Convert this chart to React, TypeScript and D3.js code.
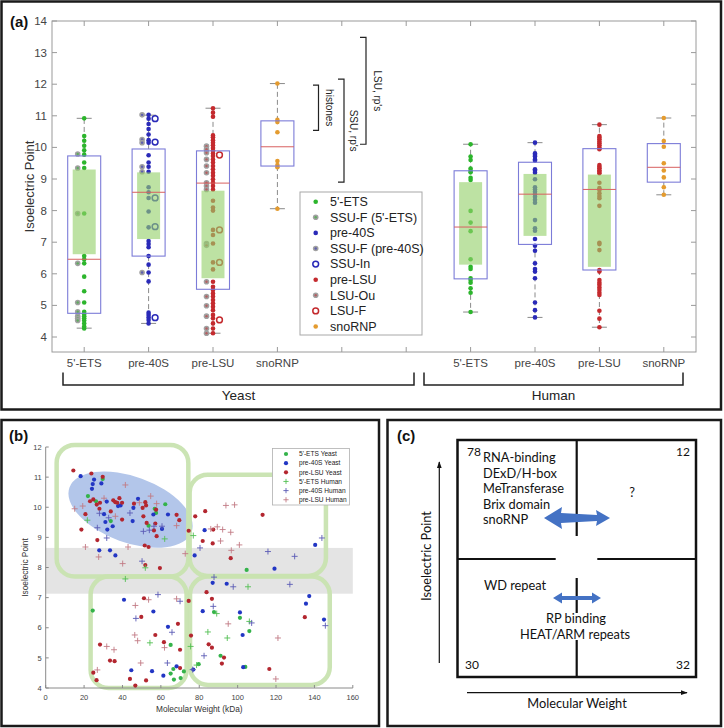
import React from "react";
import * as d3 from "d3";

// ---------------- Panel (a) data ----------------
const catLabels = ["5'-ETS", "pre-40S", "pre-LSU", "snoRNP", "", "", "5'-ETS", "pre-40S", "pre-LSU", "snoRNP"];
const yTicksA = [4, 5, 6, 7, 8, 9, 10, 11, 12, 13, 14];
const boxPos = [1, 2, 3, 4, 7, 8, 9, 10];
const boxLo = [4.75, 6.56, 5.51, 9.41, 5.84, 6.93, 6.12, 8.9];
const boxHi = [9.73, 9.95, 9.89, 10.84, 9.26, 9.53, 9.96, 10.12];
const greenLo = [6.62, 7.1, 5.86, null, 6.29, 7.2, 6.22, null];
const greenHi = [9.3, 9.21, 8.63, null, 8.9, 9.16, 9.14, null];
const medians = [6.46, 8.58, 8.87, 10.02, 7.48, 8.52, 8.67, 9.37];
const whiskLo = [4.28, 4.43, 4.12, 8.06, 4.79, 4.62, 4.31, 8.5];
const whiskHi = [10.92, 11.02, 11.24, 12.02, 10.1, 10.15, 10.72, 10.93];

const y5ETS = [10.92, 10.36, 10.21, 10.05, 9.91, 9.77, 9.52, 9.35, 7.91, 6.56, 6.46, 6.33, 5.91, 5.45, 5.09, 4.8, 4.73, 4.66, 4.59, 4.52, 4.43, 4.33, 4.27];
const ySSUF5 = [9.79, 9.35, 7.91, 6.33, 5.09, 4.8, 4.66, 4.59, 4.52];
const y40S = [11.03, 10.91, 10.74, 10.58, 10.41, 10.23, 10.15, 9.75, 9.52, 9.39, 9.23, 8.74, 8.58, 8.4, 7.97, 7.47, 7.04, 6.94, 6.84, 6.56, 6.29, 6.04, 5.76, 4.77, 4.7, 4.62, 4.54, 4.43];
const ySSUF40 = [11.03, 10.25, 10.15, 9.39, 9.23, 6.04];
const ySSUIn = [10.91, 10.17, 8.4, 7.49, 4.61];
const yLSU = [11.24, 11.1, 10.97, 10.38, 10.32, 10.23, 10.15, 10.07, 9.98, 9.9, 9.81, 9.73, 9.62, 9.52, 9.41, 9.31, 9.2, 9.1, 8.99, 8.88, 8.78, 8.67, 8.31, 8.1, 8.0, 7.39, 7.23, 6.96, 6.36, 6.14, 5.75, 5.59, 5.49, 5.38, 5.28, 5.17, 5.07, 4.96, 4.85, 4.7, 4.59, 4.43, 4.27, 4.12];
const yLSUOu = [10.04, 9.94, 9.83, 9.62, 9.41, 9.2, 8.88, 8.78, 8.67, 6.96, 6.9, 5.75, 5.28, 4.99, 4.66, 4.27, 4.12];
const yLSUF = [9.76, 7.39, 6.36, 4.54];
const ySno = [12.02, 10.87, 10.8, 10.48, 9.57, 9.44, 9.37, 8.06];
const h5ETS = [10.1, 9.71, 9.6, 9.33, 9.26, 9.21, 9.04, 8.97, 7.99, 7.62, 7.35, 6.46, 6.22, 6.15, 5.86, 5.8, 5.72, 5.54, 5.4, 4.79];
const h40S = [10.15, 9.81, 9.76, 9.71, 9.62, 9.58, 9.31, 9.26, 9.2, 8.99, 8.74, 8.67, 8.6, 8.52, 8.44, 8.34, 8.25, 7.7, 7.44, 7.36, 7.1, 6.89, 6.73, 6.33, 6.15, 6.07, 5.86, 5.09, 4.85, 4.62];
const hLSU = [10.72, 10.36, 10.31, 10.26, 10.19, 10.13, 10.07, 10.0, 9.94, 9.44, 9.39, 9.34, 9.28, 9.23, 9.18, 8.88, 8.71, 8.65, 8.55, 8.46, 8.39, 8.15, 6.98, 6.94, 6.75, 6.12, 6.07, 5.8, 5.72, 5.65, 5.57, 5.49, 5.4, 5.33, 4.83, 4.58, 4.31];
const hSno = [10.93, 10.2, 10.02, 9.5, 9.27, 9.05, 8.74, 8.5];

const legendA = ["5'-ETS", "SSU-F (5'-ETS)", "pre-40S", "SSU-F (pre-40S)", "SSU-In", "pre-LSU", "LSU-Ou", "LSU-F", "snoRNP"];

// ---------------- Panel (b) data ----------------
const yeast5ETS = [[29.7, 10.94], [22.0, 10.37], [26.2, 10.2], [33.9, 9.54], [53.6, 9.39], [56.8, 9.95], [57.5, 9.81], [62.3, 10.1], [24.5, 6.57], [65.1, 5.43], [66.5, 4.63], [65.1, 4.48], [66.8, 4.28], [70.3, 4.33], [72, 4.55], [104.7, 7.92], [87.7, 6.52], [101.2, 6.33], [106.1, 5.89], [91.1, 5.07], [79.7, 4.79], [104, 4.7]];
const yeast40S = [[18.2, 11.03], [25.2, 10.92], [24.5, 10.77], [29, 10.79], [24.1, 10.61], [31.8, 10.19], [37.7, 10.04], [39, 10.06], [30.4, 9.77], [31.1, 9.51], [34.9, 9.37], [32.1, 9.26], [27.9, 8.57], [33.5, 8.57], [36.3, 8.4], [45.7, 9.98], [45.3, 9.54], [48.1, 10.28], [56.1, 9.76], [63.7, 9.76], [60.6, 9.28], [77.6, 8.4], [40.8, 6.93], [56.1, 6.54], [63.7, 6.03], [44.6, 4.59], [55.4, 4.56], [61.3, 4.41], [68.2, 4.72], [82.8, 9.24], [140.4, 8.75], [119.2, 7.96], [87, 7.49], [94.3, 7.46], [137.3, 7.05], [135.6, 6.8], [81.8, 6.55], [101.2, 6.51], [145, 6.27], [102.6, 5.76], [102.9, 4.69], [76.9, 4.61]];
const yeastLSU = [[14.4, 11.22], [23.8, 11.12], [29.7, 11.01], [23.1, 10.2], [24.8, 10.26], [28.3, 10.15], [26.6, 10.09], [35.2, 10.23], [36.3, 10.17], [37.3, 10.15], [38.4, 10.3], [33.9, 9.86], [28, 9.95], [20.7, 9.77], [18.6, 9.26], [26.9, 8.91], [39.8, 10.15], [39.8, 9.59], [46, 10.12], [50.5, 9.98], [51.9, 10.17], [52.3, 10.06], [50.9, 9.7], [52.6, 9.48], [57.1, 9.46], [56.4, 9.23], [57.8, 9.04], [57.5, 9.92], [68.2, 9.75], [69.6, 9.57], [51.6, 8.73], [53.6, 8.68], [74.5, 9.22], [51.9, 8.08], [59.5, 7.98], [51.2, 6.98], [49.8, 6.36], [68.9, 6.13], [57.1, 5.76], [28.3, 5.44], [61.6, 5.52], [70, 5.27], [33.5, 4.91], [35.9, 4.89], [24.8, 4.51], [26.5, 4.26], [70, 4.66], [43.9, 4.3], [46.7, 4.08], [52.3, 4.25], [83.1, 9.87], [77.9, 9.7], [113, 9.75], [87.3, 9.26], [81.8, 8.88], [87, 8.8], [96.4, 8.31], [83.8, 7.18], [86.6, 6.96], [135, 6.35], [75.7, 5.74], [84.9, 5.45], [86.6, 5.34], [92.9, 5.01], [91.8, 4.81], [116.5, 4.63], [74.5, 6.89]];
const human5ETS = [[21.7, 9.57], [62, 8.95], [76.9, 9.06], [51.9, 7.99], [41.5, 7.62], [54.3, 5.5], [105.4, 7.36], [89.1, 6.47], [106.1, 6.21], [84.5, 5.86], [94.6, 5.66], [75.5, 5.38], [78.6, 4.76]];
const human40S = [[28, 9.8], [32.8, 9.65], [26.9, 9.32], [31.8, 8.98], [43.9, 9.81], [50.9, 9.2], [54, 9.24], [56.4, 9.37], [60.6, 9.37], [50.2, 8.21], [58.5, 7.1], [70, 6.88], [47, 6.31], [65.8, 5.85], [63.4, 4.83], [143.9, 8.98], [80.4, 8.65], [115.8, 8.53], [129.7, 8.37], [87.7, 7.68], [97.7, 7.36], [127.2, 7.44], [87.3, 6.71], [107.3, 6.16], [145.7, 6.07], [82.5, 5.07], [76.6, 4.61]];
const humanLSU = [[30.4, 10.3], [19.3, 10.04], [41.5, 10.74], [15.1, 9.95], [36.3, 9.7], [20.7, 8.68], [27.6, 8.35], [48.8, 10.15], [54.7, 10.37], [57.8, 10.12], [68.2, 9.39], [42.9, 8.68], [72.7, 8.46], [40.1, 8.13], [53.6, 6.93], [68.2, 6.96], [46.7, 6.74], [46.4, 5.76], [47.9, 5.57], [31.8, 5.38], [35.6, 5.27], [61.9, 5.34], [49.5, 4.83], [26.9, 4.6], [93.9, 10.06], [98.4, 10.08], [86, 9.28], [89.4, 9.35], [92.2, 9.26], [96.4, 9.17], [91.1, 8.88], [100.9, 8.75], [96.7, 8.57], [95.1, 6.13], [121, 5.66], [119.9, 4.3]];
const xTicksB = [0, 20, 40, 60, 80, 100, 120, 140, 160];
const yTicksB = [4, 5, 6, 7, 8, 9, 10, 11, 12];
const legendB = ["5'-ETS Yeast", "pre-40S Yeast", "pre-LSU Yeast", "5'-ETS Human", "pre-40S Human", "pre-LSU Human"];
// quadrant boxes [x0, x1, y0, y1] in data units
const quadBoxes = [[5.7, 74.3, 7.7, 12.07], [75, 146, 7.72, 11.08], [23.4, 73.4, 4.0, 7.7], [75.2, 148, 4.1, 7.7]];
const bandRange = [7.13, 8.65];
const ellipseCenter = [44.2, 9.92];

// ---------------- Panel (c) text ----------------
const ulLines = ["RNA-binding", "DExD/H-box", "MeTransferase", "Brix domain", "snoRNP"];

const GREEN = "#2cb52c";
const BLUE = "#2a2ab8";
const RED = "#c42a2e";
const ORANGE = "#e49b2f";
const GRAY = "#a0a0a0";

function Dot({ x, y, kind, color, r = 2.3 }: any) {
  if (kind === "ring") return <circle cx={x} cy={y} r={r + 0.6} fill="none" stroke={color} strokeWidth={1.5} />;
  if (kind === "gray")
    return (
      <g>
        <circle cx={x} cy={y} r={r + 0.5} fill={GRAY} />
        <circle cx={x} cy={y} r={1.2} fill={color} opacity={0.55} />
      </g>
    );
  return <circle cx={x} cy={y} r={r} fill={color} />;
}

function PanelA() {
  const x = d3.scaleLinear().domain([0.5, 10.5]).range([52, 696]);
  const y = d3.scaleLinear().domain([4, 14]).range([337, 21]);
  const top = 21, bot = 352, left = 52, right = 696;
  const dotGroups = [
    { pos: 1, off: 0, vals: y5ETS, kind: "dot", color: GREEN },
    { pos: 1, off: -6.5, vals: ySSUF5, kind: "gray", color: GREEN },
    { pos: 2, off: 0, vals: y40S, kind: "dot", color: BLUE },
    { pos: 2, off: -6.5, vals: ySSUF40, kind: "gray", color: BLUE },
    { pos: 2, off: 6.5, vals: ySSUIn, kind: "ring", color: BLUE },
    { pos: 3, off: 0, vals: yLSU, kind: "dot", color: RED },
    { pos: 3, off: -6.5, vals: yLSUOu, kind: "gray", color: RED },
    { pos: 3, off: 6.5, vals: yLSUF, kind: "ring", color: RED },
    { pos: 4, off: 0, vals: ySno, kind: "dot", color: ORANGE },
    { pos: 7, off: 0, vals: h5ETS, kind: "dot", color: GREEN },
    { pos: 8, off: 0, vals: h40S, kind: "dot", color: BLUE },
    { pos: 9, off: 0, vals: hLSU, kind: "dot", color: RED },
    { pos: 10, off: 0, vals: hSno, kind: "dot", color: ORANGE },
  ];
  const legendKinds = [
    ["dot", GREEN], ["gray", GREEN], ["dot", BLUE], ["gray", BLUE], ["ring", BLUE],
    ["dot", RED], ["gray", RED], ["ring", RED], ["dot", ORANGE],
  ];
  const ann = [
    { x0: 313, x1: 318.5, lo: 10.54, hi: 11.97, label: "histones", tx: 329 },
    { x0: 338, x1: 344, lo: 8.9, hi: 12.16, label: "SSU, rp's", tx: 353 },
    { x0: 360, x1: 366, lo: 10.1, hi: 13.48, label: "LSU, rp's", tx: 377 },
  ];
  return (
    <g fontFamily="'Liberation Sans', Arial, sans-serif">
      <rect x={1.5} y={1.5} width={719.5} height={408} fill="white" stroke="#1a1a1a" strokeWidth={2.5} />
      <text x={10} y={27} fontSize={15} fontWeight="bold" fill="#111">(a)</text>
      {boxPos.map((p, i) => (
        <g key={"w" + i} stroke="#8a8a8a" strokeWidth={1}>
          <line x1={x(p)} x2={x(p)} y1={y(boxHi[i])} y2={y(whiskHi[i])} strokeDasharray="5,3" />
          <line x1={x(p)} x2={x(p)} y1={y(boxLo[i])} y2={y(whiskLo[i])} strokeDasharray="5,3" />
          <line x1={x(p) - 7.5} x2={x(p) + 7.5} y1={y(whiskHi[i])} y2={y(whiskHi[i])} />
          <line x1={x(p) - 7.5} x2={x(p) + 7.5} y1={y(whiskLo[i])} y2={y(whiskLo[i])} />
        </g>
      ))}
      {dotGroups.map((g, gi) =>
        g.vals.map((v, j) => <Dot key={gi + "-" + j} x={x(g.pos) + g.off} y={y(v)} kind={g.kind} color={g.color} />)
      )}
      {boxPos.map((p, i) => (
        <g key={"b" + i}>
          {greenLo[i] !== null && (
            <rect x={x(p) - 11.5} width={23} y={y(greenHi[i] as number)} height={y(greenLo[i] as number) - y(greenHi[i] as number)} fill="#94d06a" opacity={0.62} />
          )}
          <rect x={x(p) - 16.5} width={33} y={y(boxHi[i])} height={y(boxLo[i]) - y(boxHi[i])} fill="none" stroke="#7c7cd8" strokeWidth={1.1} />
          <line x1={x(p) - 16.5} x2={x(p) + 16.5} y1={y(medians[i])} y2={y(medians[i])} stroke="#d86060" strokeWidth={1} />
        </g>
      ))}
      <rect x={left} y={top} width={right - left} height={bot - top} fill="none" stroke="#9a9a9a" strokeWidth={1} />
      {yTicksA.map((t) => (
        <g key={"yt" + t}>
          <line x1={left} x2={left + 5} y1={y(t)} y2={y(t)} stroke="#9a9a9a" />
          <line x1={right} x2={right - 5} y1={y(t)} y2={y(t)} stroke="#9a9a9a" />
          <text x={left - 5} y={y(t)} dy="0.35em" textAnchor="end" fontSize={11.5} fill="#444">{t}</text>
        </g>
      ))}
      {catLabels.map((c, i) => (
        <g key={"xt" + i}>
          <line x1={x(i + 1)} x2={x(i + 1)} y1={bot} y2={bot - 5} stroke="#9a9a9a" />
          <line x1={x(i + 1)} x2={x(i + 1)} y1={top} y2={top + 5} stroke="#9a9a9a" />
          <text x={x(i + 1)} y={363} dy="0.35em" textAnchor="middle" fontSize={11.5} fill="#444">{c}</text>
        </g>
      ))}
      <text transform={`translate(29,${(top + bot) / 2}) rotate(-90)`} textAnchor="middle" dy="0.35em" fontSize={13} fill="#333">Isoelectric Point</text>
      {ann.map((a, i) => (
        <g key={"ann" + i}>
          <path d={`M${a.x0},${y(a.hi)}H${a.x1}V${y(a.lo)}H${a.x0}`} fill="none" stroke="#222" strokeWidth={1.2} />
          <text transform={`translate(${a.tx},${(y(a.hi) + y(a.lo)) / 2}) rotate(90)`} textAnchor="middle" dy="0.35em" fontSize={10} fill="#222">{a.label}</text>
        </g>
      ))}
      <rect x={300} y={192} width={122} height={143} fill="white" stroke="#a8a8a8" strokeWidth={1} />
      {legendA.map((l, i) => (
        <g key={"lg" + i}>
          <Dot x={315.7} y={201.7 + i * 15.6} kind={legendKinds[i][0]} color={legendKinds[i][1]} />
          <text x={330} y={201.7 + i * 15.6} dy="0.35em" fontSize={12.5} fill="#222">{l}</text>
        </g>
      ))}
      <path d="M63,372.5V385H414V372.5" fill="none" stroke="#222" strokeWidth={1.5} />
      <path d="M424,372.5V385H683V372.5" fill="none" stroke="#222" strokeWidth={1.5} />
      <text x={238.5} y={395} dy="0.35em" textAnchor="middle" fontSize={13.5} fill="#222">Yeast</text>
      <text x={553.5} y={395} dy="0.35em" textAnchor="middle" fontSize={13.5} fill="#222">Human</text>
    </g>
  );
}

function Plus({ x, y, color, s = 3 }: any) {
  return (
    <g stroke={color} strokeWidth={0.9}>
      <line x1={x - s} x2={x + s} y1={y} y2={y} />
      <line x1={x} x2={x} y1={y - s} y2={y + s} />
    </g>
  );
}

function PanelB() {
  const x = d3.scaleLinear().domain([0, 160]).range([45.7, 352.8]);
  const y = d3.scaleLinear().domain([4, 12]).range([688, 447]);
  const series = [
    { data: yeast5ETS, color: "#34b34a", kind: "dot" },
    { data: yeast40S, color: "#2236c4", kind: "dot" },
    { data: yeastLSU, color: "#b3262f", kind: "dot" },
    { data: human5ETS, color: "#52c052", kind: "plus" },
    { data: human40S, color: "#5b5bb5", kind: "plus" },
    { data: humanLSU, color: "#c27a84", kind: "plus" },
  ];
  return (
    <g fontFamily="'Liberation Sans', Arial, sans-serif">
      <rect x={1.5} y={420} width={377.5} height={306} fill="white" stroke="#1a1a1a" strokeWidth={2.5} />
      <text x={9} y={441} fontSize={15} fontWeight="bold" fill="#111">(b)</text>
      <rect x={x(0)} width={x(160) - x(0)} y={y(bandRange[1])} height={y(bandRange[0]) - y(bandRange[1])} fill="#e4e4e4" />
      <ellipse cx={x(ellipseCenter[0])} cy={y(ellipseCenter[1])} rx={65} ry={33} transform={`rotate(20 ${x(ellipseCenter[0])} ${y(ellipseCenter[1])})`} fill="#b3c6ea" />
      {quadBoxes.map((q, i) => (
        <rect key={"q" + i} x={x(q[0])} y={y(q[3])} width={x(q[1]) - x(q[0])} height={y(q[2]) - y(q[3])} rx={18} ry={18} fill="none" stroke="#c8e3b0" strokeWidth={4.5} opacity={0.95} />
      ))}
      <line x1={x(0)} x2={x(0)} y1={y(12)} y2={y(4)} stroke="#8a8a8a" />
      <line x1={x(0)} x2={x(160)} y1={y(4)} y2={y(4)} stroke="#8a8a8a" />
      {yTicksB.map((t) => (
        <g key={"by" + t}>
          <line x1={x(0)} x2={x(0) + 3} y1={y(t)} y2={y(t)} stroke="#8a8a8a" />
          <text x={x(0) - 4} y={y(t)} dy="0.35em" textAnchor="end" fontSize={7.5} fill="#444">{t}</text>
        </g>
      ))}
      {xTicksB.map((t) => (
        <g key={"bx" + t}>
          <line x1={x(t)} x2={x(t)} y1={y(4)} y2={y(4) - 3} stroke="#8a8a8a" />
          <text x={x(t)} y={697} dy="0.35em" textAnchor="middle" fontSize={7.5} fill="#444">{t}</text>
        </g>
      ))}
      <text transform={`translate(25,${(y(4) + y(12)) / 2}) rotate(-90)`} textAnchor="middle" dy="0.35em" fontSize={8.3} fill="#333">Isoelectric Point</text>
      <text x={(x(0) + x(160)) / 2} y={709} dy="0.35em" textAnchor="middle" fontSize={8.3} fill="#333">Molecular Weight (kDa)</text>
      {series.map((s, si) =>
        s.data.map((d, j) =>
          s.kind === "dot" ? (
            <circle key={si + "-" + j} cx={x(d[0])} cy={y(d[1])} r={2.1} fill={s.color} />
          ) : (
            <Plus key={si + "-" + j} x={x(d[0])} y={y(d[1])} color={s.color} />
          )
        )
      )}
      <rect x={272.5} y={448.5} width={77} height={56.5} fill="white" stroke="#b0b0b0" strokeWidth={0.8} />
      {legendB.map((l, i) => (
        <g key={"lb" + i}>
          {series[i].kind === "dot" ? (
            <circle cx={286} cy={454 + i * 9.15} r={2.1} fill={series[i].color} />
          ) : (
            <Plus x={286} y={454 + i * 9.15} color={series[i].color} s={2.6} />
          )}
          <text x={299} y={454 + i * 9.15} dy="0.35em" fontSize={6.6} fill="#222">{l}</text>
        </g>
      ))}
    </g>
  );
}

function PanelC() {
  const f = "Lato, 'Open Sans', sans-serif";
  return (
    <g fontFamily={f} fill="#111">
      <defs>
        <marker id="ah" viewBox="0 0 10 10" refX="9" refY="5" markerWidth="6" markerHeight="6" orient="auto">
          <path d="M0,1.5L10,5L0,8.5Z" fill="#111" />
        </marker>
      </defs>
      <rect x={387.5} y={420} width={333.5} height={306} fill="white" stroke="#1a1a1a" strokeWidth={2.5} />
      <text x={397} y={441} fontSize={15} fontWeight="bold" fontFamily="'Liberation Sans', Arial, sans-serif">(c)</text>
      <rect x={457.5} y={440} width={238.5} height={237} fill="none" stroke="#111" strokeWidth={2.5} />
      <line x1={576.7} x2={576.7} y1={440} y2={536} stroke="#111" strokeWidth={2.2} />
      <line x1={576.7} x2={576.7} y1={578} y2={613} stroke="#111" strokeWidth={2.2} />
      <line x1={576.7} x2={576.7} y1={640} y2={677} stroke="#111" strokeWidth={2.2} />
      <line x1={457.5} x2={555.7} y1={559} y2={559} stroke="#111" strokeWidth={2.2} />
      <line x1={597.3} x2={696} y1={559} y2={559} stroke="#111" strokeWidth={2.2} />
      <text x={467} y={452} dy="0.35em" fontSize={12}>78</text>
      <text x={690} y={452} dy="0.35em" fontSize={12} textAnchor="end">12</text>
      <text x={465} y={665} dy="0.35em" fontSize={12}>30</text>
      <text x={690} y={665} dy="0.35em" fontSize={12} textAnchor="end">32</text>
      {ulLines.map((l, i) => (
        <text key={l} x={483} y={458 + i * 15.5} dy="0.35em" fontSize={12.8}>{l}</text>
      ))}
      <text x={632} y={493} dy="0.35em" fontSize={12.8} textAnchor="middle">?</text>
      <polygon points="544,518 562,507 561,513 597,515 596,510 610,518 596,526 597,521 561,523 562,529" fill="#4472c4" />
      <text x={515} y={586} dy="0.35em" fontSize={12.8} textAnchor="middle">WD repeat</text>
      <polygon points="553,598 562,592.5 562,596 592,596 592,592.5 601,598 592,603.5 592,600 562,600 562,603.5" fill="#4472c4" />
      <text x={576} y={619} dy="0.35em" fontSize={12.8} textAnchor="middle">RP binding</text>
      <text x={575} y={635} dy="0.35em" fontSize={12.8} textAnchor="middle">HEAT/ARM repeats</text>
      <line x1={439.3} x2={439.3} y1={663} y2={462} stroke="#111" strokeWidth={1.2} markerEnd="url(#ah)" />
      <text transform="translate(427,556) rotate(-90)" textAnchor="middle" dy="0.35em" fontSize={12.8}>Isoelectric Point</text>
      <line x1={467} x2={687} y1={692.7} y2={692.7} stroke="#111" strokeWidth={1.2} markerEnd="url(#ah)" />
      <text x={577} y={704} dy="0.35em" fontSize={12.8} textAnchor="middle">Molecular Weight</text>
    </g>
  );
}

export default function App() {
  return (
    <svg width={724} height={728} style={{ position: "absolute", left: 0, top: 0, background: "white" }}>
      <rect width={724} height={728} fill="white" />
      <PanelA />
      <PanelB />
      <PanelC />
    </svg>
  );
}
